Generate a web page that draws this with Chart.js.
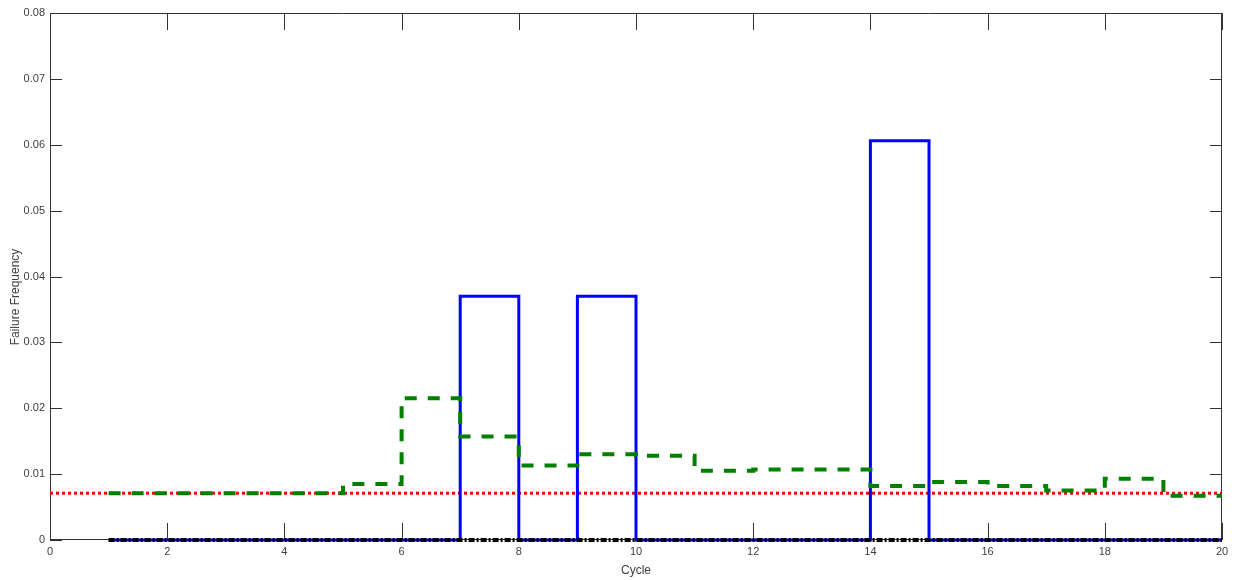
<!DOCTYPE html>
<html><head><meta charset="utf-8">
<script src="https://cdn.jsdelivr.net/npm/chart.js@4.4.1/dist/chart.umd.min.js"></script>
<style>html,body{margin:0;padding:0;background:#fff;overflow:hidden}</style>
</head><body>
<canvas id="c" width="1235" height="580"></canvas>
<script>
const cycles = [1,2,3,4,5,6,7,8,9,10,11,12,13,14,15,16,17,18,19,20];
const blueValues = [0,0,0,0,0,0,0.037,0,0.037,0,0,0,0,0.0606,0,0,0,0,0,0];
const greenValues = [0.0071,0.0071,0.0071,0.0071,0.0085,0.0215,0.0157,0.0113,0.0130,0.0128,0.0105,0.0107,0.0107,0.0082,0.0088,0.0082,0.0075,0.0093,0.0067,0.0067];
const blackValues = [0,0,0,0,0,0,0,0,0,0,0,0,0,0,0,0,0,0,0,0];
const redX = [0,20];
const redValues = [0.0071,0.0071];
const xTicks = [0,2,4,6,8,10,12,14,16,18,20];
const xTickLabels = ['0','2','4','6','8','10','12','14','16','18','20'];
const yTicks = [0,0.01,0.02,0.03,0.04,0.05,0.06,0.07,0.08];
const yTickLabels = ['0','0.01','0.02','0.03','0.04','0.05','0.06','0.07','0.08'];
const xTitle = 'Cycle';
const yTitle = 'Failure Frequency';

const pts = (xs, ys) => xs.map((x,i)=>({x:x, y:ys[i]}));
const FONT = '"Liberation Sans", Arial, sans-serif';
const TXT = '#404040';

const boxPlugin = {
  id:'box',
  beforeDatasetsDraw(chart){
    const {ctx, chartArea:a, scales} = chart;
    ctx.save();
    ctx.strokeStyle = '#333';
    ctx.lineWidth = 1;
    ctx.beginPath();
    ctx.rect(a.left+0.5, a.top+0.5, a.right-a.left-1, a.bottom-a.top-1);
    ctx.stroke();
    ctx.beginPath();
    xTicks.forEach(v=>{
      const px = Math.round(scales.x.getPixelForValue(v))+0.5;
      ctx.moveTo(px, a.bottom); ctx.lineTo(px, a.bottom-17);
      ctx.moveTo(px, a.top); ctx.lineTo(px, a.top+17);
    });
    yTicks.forEach(v=>{
      const py = Math.round(scales.y.getPixelForValue(v))+0.5;
      ctx.moveTo(a.left, py); ctx.lineTo(a.left+12, py);
      ctx.moveTo(a.right, py); ctx.lineTo(a.right-12, py);
    });
    ctx.stroke();
    ctx.fillStyle = TXT;
    ctx.font = '12px ' + FONT;
    ctx.textAlign = 'center';
    ctx.textBaseline = 'middle';
    ctx.fillText(xTitle, (a.left+a.right)/2, 571);
    ctx.translate(16, 297);
    ctx.rotate(-Math.PI/2);
    ctx.fillText(yTitle, 0, 0);
    ctx.restore();
  }
};

new Chart(document.getElementById('c'), {
  type:'line',
  data:{
    datasets:[
      {data:pts(cycles, blackValues), borderColor:'#000', borderWidth:4, borderDash:[6,2,2,2], stepped:true, pointRadius:0, order:1, clip:false},
      {data:pts(cycles, greenValues), borderColor:'#008000', borderWidth:4, borderDash:[12,11], stepped:true, pointRadius:0, order:2, clip:false},
      {data:pts(cycles, blueValues), borderColor:'#0000ff', borderWidth:3, stepped:true, pointRadius:0, order:3, clip:false},
      {data:pts(redX, redValues), borderColor:'#ff0000', borderWidth:3, borderDash:[3,3], pointRadius:0, order:4, clip:false}
    ]
  },
  options:{
    responsive:false, animation:false, devicePixelRatio:1,
    layout:{padding:{left:0,right:13,top:13,bottom:0}},
    plugins:{legend:{display:false}, tooltip:{enabled:false}},
    scales:{
      x:{type:'linear', min:0, max:20,
        grid:{display:false, drawTicks:false}, border:{display:false},
        afterBuildTicks(s){ s.ticks = xTicks.map(v=>({value:v})); },
        afterFit(s){ s.height = 40; },
        ticks:{padding:5, maxRotation:0, autoSkip:false, color:TXT, font:{size:11, family:FONT},
          callback:(v,i)=>xTickLabels[i]}
      },
      y:{type:'linear', min:0, max:0.08,
        grid:{display:false, drawTicks:false}, border:{display:false},
        afterBuildTicks(s){ s.ticks = yTicks.map(v=>({value:v})); },
        afterFit(s){ s.width = 50; },
        ticks:{padding:5, autoSkip:false, color:TXT, font:{size:11, family:FONT},
          callback:(v,i)=>yTickLabels[i]}
      }
    }
  },
  plugins:[boxPlugin]
});
</script>
</body></html>
